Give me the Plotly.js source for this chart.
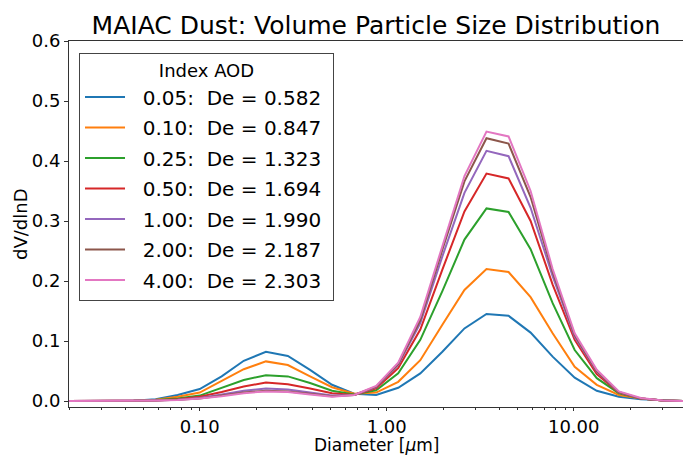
<!DOCTYPE html>
<html>
<head>
<meta charset="utf-8">
<script src="https://cdn.plot.ly/plotly-3.0.1.min.js"></script>
<style>html,body{margin:0;padding:0;background:#fff;}#chart{width:683px;height:455px;}</style>
</head>
<body>
<div id="chart"></div>
<script>
// Diameter bins (µm)
const diameter = [0.0196, 0.0257, 0.0338, 0.0443, 0.0581, 0.0762, 0.1, 0.131, 0.172, 0.226, 0.296, 0.389, 0.510, 0.670, 0.878, 1.152, 1.512, 1.984, 2.604, 3.416, 4.482, 5.880, 7.714, 10.12, 13.28, 17.43, 22.86, 30.0, 39.36];

const aodLabels = ["0.05", "0.10", "0.25", "0.50", "1.00", "2.00", "4.00"];
const deValues = ["0.582", "0.847", "1.323", "1.694", "1.990", "2.187", "2.303"];

const dv_005 = [0, 0, 0, 0.0005, 0.003, 0.010, 0.020, 0.041, 0.067, 0.082, 0.075, 0.052, 0.027, 0.012, 0.010, 0.022, 0.046, 0.082, 0.121, 0.145, 0.142, 0.114, 0.074, 0.039, 0.017, 0.007, 0.003, 0.001, 0];
const dv_010 = [0, 0, 0, 0.0004, 0.002, 0.007, 0.014, 0.033, 0.053, 0.066, 0.060, 0.041, 0.023, 0.012, 0.014, 0.032, 0.068, 0.127, 0.185, 0.220, 0.215, 0.173, 0.113, 0.057, 0.027, 0.010, 0.004, 0.001, 0];
const dv_025 = [0, 0, 0, 0.0003, 0.0015, 0.004, 0.009, 0.022, 0.035, 0.043, 0.041, 0.030, 0.017, 0.011, 0.018, 0.046, 0.102, 0.183, 0.269, 0.321, 0.315, 0.253, 0.163, 0.085, 0.038, 0.013, 0.004, 0.001, 0];
const dv_050 = [0, 0, 0, 0.0002, 0.001, 0.003, 0.007, 0.015, 0.024, 0.031, 0.028, 0.021, 0.013, 0.010, 0.021, 0.055, 0.119, 0.219, 0.316, 0.379, 0.371, 0.300, 0.194, 0.102, 0.045, 0.014, 0.004, 0.001, 0];
const dv_100 = [0, 0, 0, 0.0002, 0.001, 0.002, 0.005, 0.011, 0.017, 0.021, 0.019, 0.014, 0.009, 0.010, 0.023, 0.060, 0.130, 0.241, 0.347, 0.417, 0.408, 0.322, 0.208, 0.107, 0.049, 0.0145, 0.004, 0.001, 0];
const dv_200 = [0, 0, 0, 0.0001, 0.0008, 0.002, 0.004, 0.009, 0.014, 0.017, 0.016, 0.012, 0.008, 0.010, 0.024, 0.062, 0.135, 0.252, 0.366, 0.438, 0.429, 0.340, 0.215, 0.110, 0.050, 0.015, 0.004, 0.001, 0];
const dv_400 = [0, 0, 0, 0.0001, 0.0007, 0.0015, 0.004, 0.008, 0.013, 0.016, 0.015, 0.011, 0.007, 0.010, 0.025, 0.064, 0.140, 0.258, 0.375, 0.449, 0.441, 0.350, 0.220, 0.113, 0.052, 0.016, 0.005, 0.001, 0];

const series = [dv_005, dv_010, dv_025, dv_050, dv_100, dv_200, dv_400];
const colors = ["#1f77b4", "#ff7f0e", "#2ca02c", "#d62728", "#9467bd", "#8c564b", "#e377c2"];

const xTickVals = [0.1, 1, 10];
const xTickText = ["0.10", "1.00", "10.00"];
const yTickVals = [0, 0.1, 0.2, 0.3, 0.4, 0.5, 0.6];
const yTickText = ["0.0", "0.1", "0.2", "0.3", "0.4", "0.5", "0.6"];

const minorVals = [];
[0.01, 0.1, 1, 10].forEach(d => { for (let k = 2; k <= 9; k++) minorVals.push(d * k); });

const traces = series.map((ys, i) => ({
  x: diameter,
  y: ys,
  type: "scatter",
  mode: "lines",
  name: "\u00a0\u00a0" + aodLabels[i] + ":\u00a0\u00a0De = " + deValues[i] + "\u00a0",
  line: { color: colors[i], width: 2 },
  legendgroup: "g" + i
}));

const font = "DejaVu Sans, sans-serif";
const layout = {
  width: 683,
  height: 455,
  margin: { l: 69, r: 0, t: 41, b: 48 },
  paper_bgcolor: "#fff",
  plot_bgcolor: "#fff",
  font: { family: font, size: 18, color: "#000" },
  title: {
    text: "MAIAC Dust: Volume Particle Size Distribution",
    font: { family: font, size: 25, color: "#000" },
    x: 0.5, xanchor: "center", xref: "paper",
    y: 0.945, yanchor: "middle"
  },
  xaxis: {
    type: "log",
    range: [Math.log10(0.02), Math.log10(38.4)],
    tickmode: "array",
    tickvals: xTickVals,
    ticktext: xTickText,
    ticks: "outside",
    ticklen: 3,
    tickcolor: "#333",
    showgrid: false,
    zeroline: false,
    showline: true,
    linecolor: "#333",
    linewidth: 1,
    mirror: true,
    tickfont: { family: font, size: 18, color: "#000" },
    minor: { tickmode: "array", tickvals: minorVals, ticks: "outside", ticklen: 2, tickcolor: "#333", showgrid: false }
  },
  yaxis: {
    range: [-0.01, 0.6],
    tickmode: "array",
    tickvals: yTickVals,
    ticktext: yTickText,
    ticks: "outside",
    ticklen: 4,
    tickcolor: "#333",
    showgrid: false,
    zeroline: false,
    showline: true,
    linecolor: "#333",
    linewidth: 1,
    mirror: true,
    tickfont: { family: font, size: 18, color: "#000" }
  },
  annotations: [
    {
      text: "Diameter [<i>μ</i>m]",
      xref: "paper", yref: "paper",
      x: 0.5, y: -0.1025, xanchor: "center", yanchor: "middle",
      showarrow: false,
      font: { family: font, size: 17, color: "#000" }
    },
    {
      text: "dV/dlnD",
      xref: "paper", yref: "paper",
      x: -0.0798, y: 0.5, xanchor: "center", yanchor: "middle",
      textangle: -90,
      showarrow: false,
      font: { family: font, size: 18, color: "#000" }
    }
  ],
  showlegend: true,
  legend: {
    x: 0.0163, y: 0.967, xanchor: "left", yanchor: "top",
    xref: "paper", yref: "paper",
    bgcolor: "#fff",
    bordercolor: "#444",
    borderwidth: 1,
    font: { family: font, size: 20, color: "#000" },
    title: { text: "Index AOD", side: "top center", font: { family: font, size: 18, color: "#000" } },
    traceorder: "grouped",
    tracegroupgap: 1.5,
    itemwidth: 40
  }
};

Plotly.newPlot("chart", traces, layout, { displayModeBar: false, staticPlot: true });
</script>
</body>
</html>
